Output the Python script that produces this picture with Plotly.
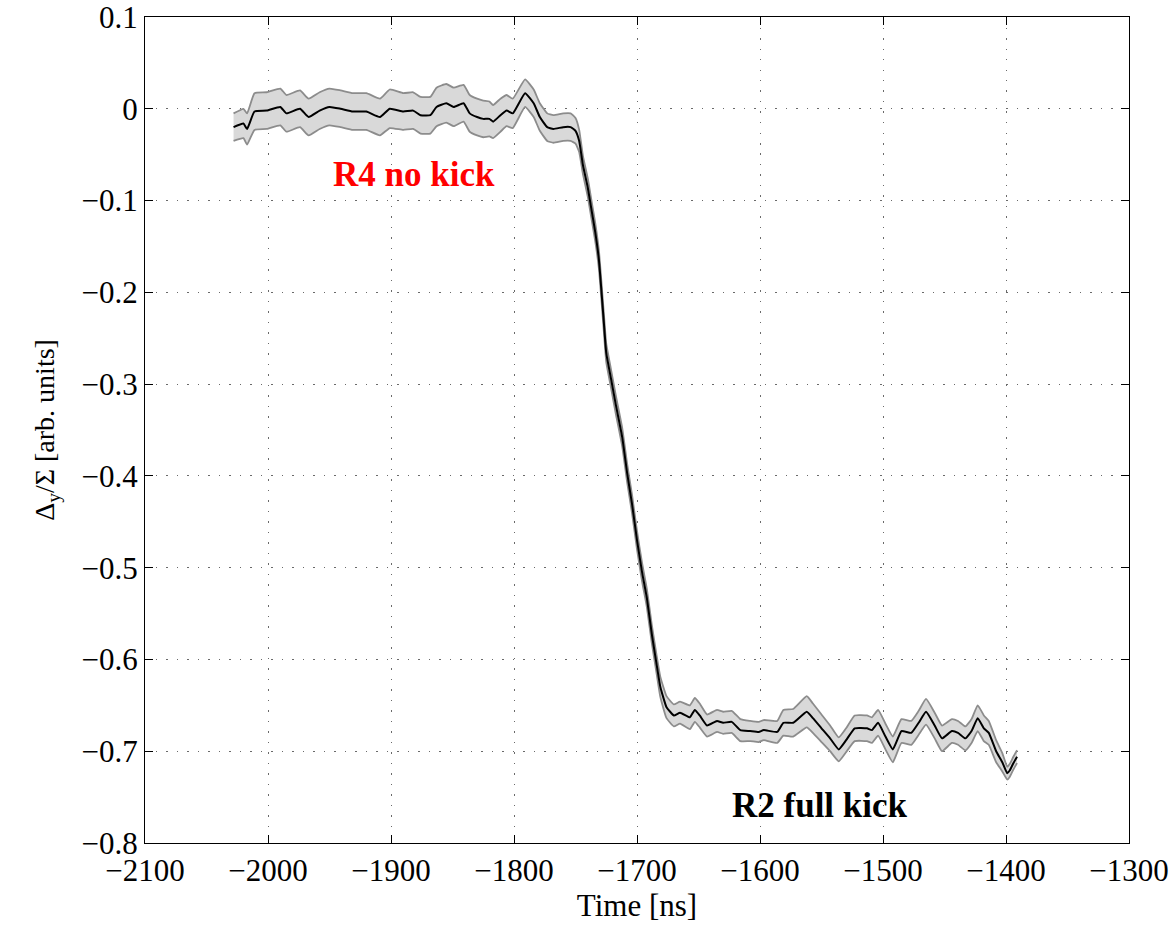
import plotly.graph_objects as go

# Time [ns]
time_ns = [-2028, -2020, -2017, -2011, -2001, -1990, -1985, -1974, -1967, -1958,
           -1950, -1941, -1931, -1920, -1909, -1901, -1890, -1882, -1876, -1868,
           -1863, -1855, -1849, -1841, -1836, -1830, -1825, -1820, -1817, -1811,
           -1806, -1801, -1791, -1784, -1779, -1773, -1768, -1760, -1754, -1750,
           -1747, -1744, -1740, -1737, -1734, -1731, -1729, -1727, -1725, -1721,
           -1717, -1712, -1708, -1704, -1700, -1696, -1692, -1688, -1684, -1681,
           -1676, -1670, -1665, -1657, -1653, -1649, -1643, -1635, -1630, -1623,
           -1616, -1608, -1601, -1597, -1586, -1581, -1573, -1562, -1557, -1550,
           -1543, -1536, -1530, -1523, -1513, -1509, -1504, -1498, -1492, -1485,
           -1477, -1471, -1465, -1458, -1452, -1444, -1439, -1433, -1428, -1423,
           -1418, -1414, -1408, -1403, -1399, -1397, -1394, -1391]

# Mean Delta_y / Sigma
mean_signal = [-0.020, -0.016, -0.022, -0.003, -0.002, 0.002, -0.005, 0.000, -0.009, -0.002,
               0.002, 0.000, -0.003, -0.003, -0.009, 0.000, -0.003, -0.002, -0.007, -0.007,
               0.002, 0.006, 0.002, 0.006, -0.005, -0.009, -0.011, -0.011, -0.014, -0.007,
               -0.002, -0.005, 0.017, 0.006, -0.009, -0.020, -0.022, -0.020, -0.020, -0.024,
               -0.035, -0.061, -0.086, -0.110, -0.134, -0.164, -0.197, -0.232, -0.266, -0.295,
               -0.324, -0.358, -0.397, -0.431, -0.470, -0.504, -0.533, -0.572, -0.606, -0.630,
               -0.652, -0.661, -0.658, -0.663, -0.655, -0.661, -0.672, -0.667, -0.669, -0.668,
               -0.677, -0.678, -0.679, -0.677, -0.679, -0.669, -0.669, -0.657, -0.664, -0.675,
               -0.686, -0.698, -0.688, -0.675, -0.675, -0.677, -0.669, -0.684, -0.698, -0.678,
               -0.680, -0.669, -0.657, -0.672, -0.686, -0.678, -0.680, -0.686, -0.678, -0.664,
               -0.675, -0.680, -0.700, -0.712, -0.724, -0.721, -0.713, -0.706]

# Half width of the grey uncertainty band
band_halfwidth = [0.015, 0.016, 0.017, 0.020, 0.020, 0.020, 0.020, 0.020, 0.020, 0.020,
                  0.020, 0.020, 0.020, 0.020, 0.020, 0.021, 0.020, 0.020, 0.020, 0.020,
                  0.021, 0.021, 0.021, 0.020, 0.020, 0.020, 0.020, 0.019, 0.018, 0.018,
                  0.017, 0.016, 0.015, 0.015, 0.015, 0.015, 0.015, 0.015, 0.015, 0.014,
                  0.012, 0.010, 0.010, 0.010, 0.010, 0.010, 0.010, 0.010, 0.010, 0.010,
                  0.010, 0.010, 0.010, 0.010, 0.010, 0.010, 0.010, 0.010, 0.010, 0.011,
                  0.012, 0.012, 0.012, 0.013, 0.013, 0.013, 0.012, 0.012, 0.012, 0.012,
                  0.012, 0.011, 0.011, 0.011, 0.012, 0.014, 0.015, 0.017, 0.016, 0.015,
                  0.014, 0.013, 0.013, 0.014, 0.014, 0.014, 0.014, 0.014, 0.014, 0.013,
                  0.013, 0.013, 0.014, 0.014, 0.014, 0.013, 0.013, 0.013, 0.013, 0.014,
                  0.014, 0.013, 0.012, 0.010, 0.007, 0.007, 0.007, 0.007]

x_ticks = [-2100, -2000, -1900, -1800, -1700, -1600, -1500, -1400, -1300]
y_ticks = [0.1, 0, -0.1, -0.2, -0.3, -0.4, -0.5, -0.6, -0.7, -0.8]
y_tick_labels = ["0.1", "0", "−0.1", "−0.2", "−0.3", "−0.4", "−0.5", "−0.6", "−0.7", "−0.8"]

upper = [m + h for m, h in zip(mean_signal, band_halfwidth)]
lower = [m - h for m, h in zip(mean_signal, band_halfwidth)]

FONT = "Liberation Serif"

fig = go.Figure()
fig.add_trace(go.Scatter(x=time_ns, y=upper, mode="lines",
                         line=dict(color="#8c8c8c", width=1.8, shape="spline", smoothing=0.4),
                         showlegend=False, hoverinfo="skip"))
fig.add_trace(go.Scatter(x=time_ns, y=lower, mode="lines", fill="tonexty",
                         fillcolor="#d9d9d9",
                         line=dict(color="#8c8c8c", width=1.8, shape="spline", smoothing=0.4),
                         showlegend=False, hoverinfo="skip"))
fig.add_trace(go.Scatter(x=time_ns, y=mean_signal, mode="lines",
                         line=dict(color="black", width=2, shape="spline", smoothing=0.4),
                         showlegend=False))

fig.add_annotation(x=-1881, y=-0.072, text="<b>R4 no kick</b>", showarrow=False,
                   font=dict(family=FONT, size=35, color="#ff0000"))
fig.add_annotation(x=-1551, y=-0.759, text="<b>R2 full kick</b>", showarrow=False,
                   font=dict(family=FONT, size=35, color="black"))

axis_common = dict(showline=True, linecolor="black", linewidth=1.2, mirror="ticks",
                   ticks="inside", ticklen=8, tickcolor="black", automargin=False,
                   ticklabeloverflow="allow",
                   showgrid=True, gridcolor="#6a6a6a", griddash="1.5px,9px", gridwidth=1,
                   zeroline=False, tickfont=dict(family=FONT, size=31, color="black"))

fig.update_xaxes(range=[-2100, -1300], tickvals=x_ticks,
                 title=dict(text="Time [ns]", font=dict(family=FONT, size=31, color="black"),
                            standoff=2),
                 **axis_common)
fig.update_yaxes(range=[-0.8, 0.1], tickvals=y_ticks, ticktext=y_tick_labels,
                 title=dict(text="Δ<sub>y</sub>/Σ [arb. units]",
                            font=dict(family=FONT, size=28, color="black"), standoff=18),
                 **axis_common)

fig.update_layout(width=1173, height=929, plot_bgcolor="white", paper_bgcolor="white",
                  margin=dict(l=145, r=44, t=17, b=86), showlegend=False)

fig.write_html("out.html")
